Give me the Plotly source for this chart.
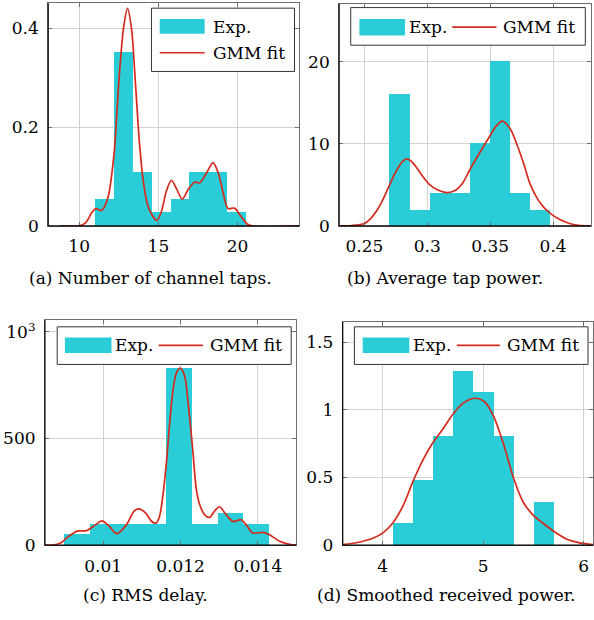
import plotly.graph_objects as go

W, H = 594, 620
CYAN = "#2acdd7"
RED = "#d52b1f"
FONT = "DejaVu Serif"
FS = 17

# ---------------- data ----------------
# (a) Number of channel taps
a_edges = [11.0, 12.19, 13.39, 14.58, 15.78, 16.97, 18.16, 19.36, 20.55]
a_heights = [0.0542, 0.3523, 0.1084, 0.0271, 0.0542, 0.1084, 0.1084, 0.0271]
a_fit_x = [8.85, 10.0, 10.4, 10.8, 11.05, 11.4, 11.8, 12.2, 12.5, 12.8, 13.05, 13.3, 13.55,
           13.8, 14.05, 14.3, 14.6, 14.9, 15.2, 15.5, 15.82, 16.15, 16.5, 16.9, 17.3, 17.6,
           18.0, 18.45, 18.8, 19.1, 19.4, 19.8, 20.2, 20.6, 20.9, 23.88]
a_fit_y = [0.0, 0.0, 0.006, 0.027, 0.035, 0.031, 0.055, 0.145, 0.29, 0.40, 0.44, 0.40, 0.29,
           0.17, 0.09, 0.045, 0.022, 0.011, 0.03, 0.07, 0.092, 0.075, 0.054, 0.075, 0.089, 0.087,
           0.105, 0.128, 0.105, 0.065, 0.035, 0.036, 0.02, 0.004, 0.0, 0.0]
a_xticks = [10, 15, 20]
a_xtext = ["10", "15", "20"]
a_yticks = [0, 0.2, 0.4]
a_ytext = ["0", "0.2", "0.4"]

# (b) Average tap power
b_edges = [0.270, 0.286, 0.302, 0.318, 0.334, 0.350, 0.366, 0.382, 0.398]
b_heights = [16.13, 2.02, 4.03, 4.03, 10.08, 20.16, 4.03, 2.02]
b_fit_x = [0.2299, 0.24, 0.25, 0.255, 0.26, 0.265, 0.27, 0.275, 0.28, 0.2834, 0.287, 0.292,
           0.297, 0.302, 0.308, 0.316, 0.322, 0.328, 0.334, 0.342, 0.35, 0.355, 0.3596, 0.366,
           0.372, 0.377, 0.382, 0.388, 0.393, 0.398, 0.405, 0.413, 0.42, 0.4299]
b_fit_y = [0.0, 0.05, 0.3, 0.9, 1.9, 3.3, 5.0, 6.6, 7.8, 8.16, 7.9, 7.0,
           5.9, 5.0, 4.4, 4.06, 4.3, 5.2, 6.9, 9.0, 11.0, 12.2, 12.75, 11.8,
           9.6, 7.4, 5.0, 3.2, 2.2, 1.5, 0.8, 0.3, 0.08, 0.0]
b_xticks = [0.25, 0.3, 0.35, 0.4]
b_xtext = ["0.25", "0.3", "0.35", "0.4"]
b_yticks = [0, 10, 20]
b_ytext = ["0", "10", "20"]

# (c) RMS delay
c_edges = [0.008986, 0.009648, 0.010311, 0.010973, 0.011635, 0.012298, 0.01296, 0.013622, 0.014284]
c_heights = [52, 100, 100, 100, 830, 100, 149, 100]
c_fit_x = [0.008495, 0.0087, 0.0089, 0.0091, 0.00933, 0.00957, 0.0098, 0.00997, 0.01015,
           0.01035, 0.0106, 0.0108, 0.01093, 0.0111, 0.01125, 0.01136, 0.01145, 0.01155,
           0.011636, 0.011721, 0.011807, 0.011893, 0.012, 0.012111, 0.012197, 0.012307,
           0.01241, 0.0125, 0.012625, 0.01275, 0.01288, 0.01301, 0.01315, 0.013355, 0.01357,
           0.01372, 0.01387, 0.01413, 0.0143, 0.01455, 0.01482, 0.01499]
c_fit_y = [0, 0, 10, 40, 66, 68, 95, 114, 90,
           54, 95, 160, 170, 150, 112, 103, 130, 240,
           389, 574, 728, 806, 829, 790, 667, 466,
           260, 188, 142, 130, 160, 180, 150, 111, 119,
           90, 57, 60, 49, 20, 4, 0]
c_xticks = [0.01, 0.012, 0.014]
c_xtext = ["0.01", "0.012", "0.014"]
c_yticks = [0, 500, 1000]
c_ytext = ["0", "500", "10<sup>3</sup>"]

# (d) Smoothed received power
d_edges = [4.1, 4.3, 4.5, 4.7, 4.9, 5.1, 5.3, 5.5, 5.7]
d_heights = [0.161, 0.484, 0.806, 1.290, 1.129, 0.806, 0.0, 0.323]
d_fit_x = [3.603, 3.75, 3.908, 4.0, 4.099, 4.206, 4.298, 4.404, 4.497, 4.603, 4.702, 4.801,
           4.918, 5.017, 5.106, 5.199, 5.305, 5.397, 5.497, 5.596, 5.705, 5.827, 5.96, 6.092]
d_fit_y = [0.005, 0.02, 0.053, 0.089, 0.162, 0.295, 0.464, 0.633, 0.754, 0.862, 0.971, 1.049,
           1.085, 1.056, 0.947, 0.754, 0.488, 0.319, 0.222, 0.162, 0.101, 0.046, 0.017, 0.005]
d_xticks = [4, 5, 6]
d_xtext = ["4", "5", "6"]
d_yticks = [0, 0.5, 1, 1.5]
d_ytext = ["0", "0.5", "1", "1.5"]

captions = ["(a) Number of channel taps.", "(b) Average tap power.",
            "(c) RMS delay.", "(d) Smoothed received power."]

# ---------------- layout geometry (pixels) ----------------
panels = [
    dict(edges=a_edges, h=a_heights, fx=a_fit_x, fy=a_fit_y, xt=a_xticks, xtt=a_xtext,
         yt=a_yticks, ytt=a_ytext, px=(48.3, 299.5), py=(2.3, 229), xr=(8.047, 23.875), yr=(0, 0.4505)),
    dict(edges=b_edges, h=b_heights, fx=b_fit_x, fy=b_fit_y, xt=b_xticks, xtt=b_xtext,
         yt=b_yticks, ytt=b_ytext, px=(339.7, 591.7), py=(2.7, 229), xr=(0.2299, 0.4299), yr=(0, 27.05)),
    dict(edges=c_edges, h=c_heights, fx=c_fit_x, fy=c_fit_y, xt=c_xticks, xtt=c_xtext,
         yt=c_yticks, ytt=c_ytext, px=(45, 296.7), py=(325, 554), xr=(0.008495, 0.014991), yr=(0, 1053.8)),
    dict(edges=d_edges, h=d_heights, fx=d_fit_x, fy=d_fit_y, xt=d_xticks, xtt=d_xtext,
         yt=d_yticks, ytt=d_ytext, px=(343.3, 594), py=(326.7, 554), xr=(3.603, 6.092), yr=(0, 1.649)),
]

legends = [
    dict(box=(151.7, 7.3, 295, 71.7), rect=(160, 18.3, 205, 33.3), exp=(212, 26),
         line=(160, 205, 52.7), gmm=(212, 52.7)),
    dict(box=(351.3, 6.7, 586.3, 45), rect=(360, 18.3, 405.7, 35), exp=(408.5, 26.5),
         line=(453, 497.3, 26.5), gmm=(503.3, 26.5)),
    dict(box=(57.3, 331.7, 291.7, 370), rect=(65, 342.7, 111.7, 358.3), exp=(114.5, 350.5),
         line=(159, 203.3, 350.5), gmm=(209.3, 350.5)),
    dict(box=(355, 331.7, 589, 370), rect=(363.3, 342.7, 410, 358.3), exp=(412.5, 350.5),
         line=(457.5, 500.7, 350.5), gmm=(507.3, 350.5)),
]
cap_pos = [(151, 282), (445.5, 282), (146, 605), (447, 605)]


def fx(p):
    return p / W


def fy(p):
    return 1 - p / H


fig = go.Figure()
shapes = []
annotations = []
layout = {}

for i, p in enumerate(panels):
    n = "" if i == 0 else str(i + 1)
    xa, ya = "x" + n, "y" + n
    centers = [(p["edges"][k] + p["edges"][k + 1]) / 2 for k in range(len(p["h"]))]
    widths = [p["edges"][k + 1] - p["edges"][k] for k in range(len(p["h"]))]
    fig.add_trace(go.Bar(x=centers, y=p["h"], width=widths, marker=dict(color=CYAN, line=dict(width=0)),
                         xaxis=xa, yaxis=ya, showlegend=False))
    fig.add_trace(go.Scatter(x=p["fx"], y=p["fy"], mode="lines",
                             line=dict(color=RED, width=1.7, shape="spline", smoothing=0.8),
                             xaxis=xa, yaxis=ya, showlegend=False, cliponaxis=True))
    common = dict(showgrid=True, gridcolor="#d2d2d2", gridwidth=1, zeroline=False,
                  showline=True, linecolor="#6e6e6e", linewidth=1, mirror="ticks",
                  ticks="inside", ticklen=4, tickcolor="#6e6e6e", tickwidth=1,
                  tickfont=dict(family=FONT, size=FS, color="black"))
    layout["xaxis" + n] = dict(common, domain=[fx(p["px"][0]), fx(p["px"][1])], range=list(p["xr"]),
                               tickvals=p["xt"], ticktext=p["xtt"], anchor=ya, ticklabelstandoff=5)
    layout["yaxis" + n] = dict(common, domain=[fy(p["py"][1]), fy(p["py"][0])], range=list(p["yr"]),
                               tickvals=p["yt"], ticktext=p["ytt"], anchor=xa, ticklabelstandoff=5)
    # black left and bottom axis lines
    shapes.append(dict(type="line", xref=xa + " domain", yref=ya + " domain", x0=0, x1=0, y0=0, y1=1,
                       line=dict(color="black", width=1.2)))
    shapes.append(dict(type="line", xref=xa + " domain", yref=ya + " domain", x0=0, x1=1, y0=0, y1=0,
                       line=dict(color="black", width=1.2)))

    lg = legends[i]
    bx = lg["box"]
    shapes.append(dict(type="rect", xref="paper", yref="paper", x0=fx(bx[0]), x1=fx(bx[2]),
                       y0=fy(bx[3]), y1=fy(bx[1]), fillcolor="white", line=dict(color="#333333", width=1)))
    r = lg["rect"]
    shapes.append(dict(type="rect", xref="paper", yref="paper", x0=fx(r[0]), x1=fx(r[2]),
                       y0=fy(r[3]), y1=fy(r[1]), fillcolor=CYAN, line=dict(width=0)))
    ln = lg["line"]
    shapes.append(dict(type="line", xref="paper", yref="paper", x0=fx(ln[0]), x1=fx(ln[1]),
                       y0=fy(ln[2]), y1=fy(ln[2]), line=dict(color=RED, width=1.7)))
    annotations.append(dict(text="Exp.", xref="paper", yref="paper", x=fx(lg["exp"][0]), y=fy(lg["exp"][1]),
                            xanchor="left", yanchor="middle", showarrow=False,
                            font=dict(family=FONT, size=FS, color="black"), borderpad=0))
    annotations.append(dict(text="GMM fit", xref="paper", yref="paper", x=fx(lg["gmm"][0]), y=fy(lg["gmm"][1]),
                            xanchor="left", yanchor="middle", showarrow=False,
                            font=dict(family=FONT, size=FS, color="black"), borderpad=0))
    cx, cy = cap_pos[i]
    annotations.append(dict(text=captions[i], xref="paper", yref="paper", x=fx(cx), y=fy(cy),
                            xanchor="center", yanchor="middle", showarrow=False,
                            font=dict(family=FONT, size=FS, color="black")))

fig.update_layout(width=W, height=H, margin=dict(l=0, r=0, t=0, b=0),
                  paper_bgcolor="white", plot_bgcolor="white", bargap=0,
                  font=dict(family=FONT),
                  shapes=shapes, annotations=annotations, **layout)
fig.write_html("out.html")
